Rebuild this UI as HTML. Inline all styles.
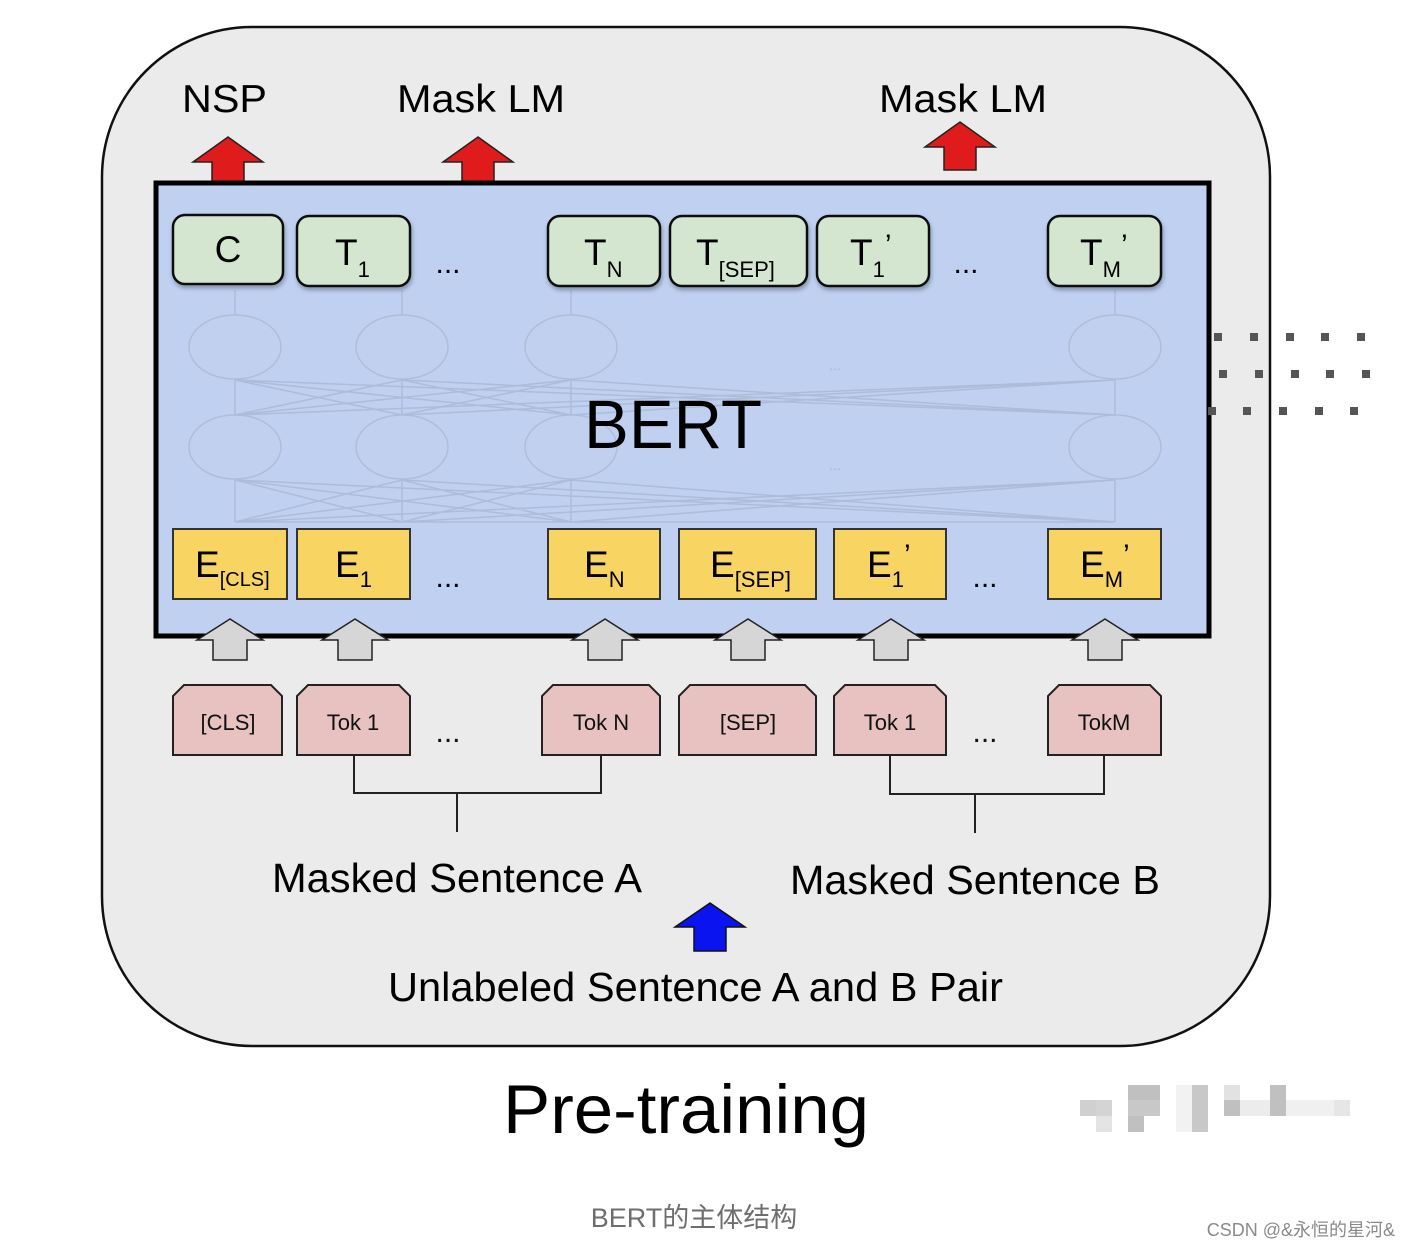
<!DOCTYPE html>
<html><head><meta charset="utf-8"><style>
html,body{margin:0;padding:0;background:#fff;width:1410px;height:1248px;overflow:hidden}
svg text{font-family:"Liberation Sans","Noto Sans CJK SC",sans-serif}
</style></head><body>
<svg width="1410" height="1248" viewBox="0 0 1410 1248" xmlns="http://www.w3.org/2000/svg">
<defs>
<filter id="sh" x="-10%" y="-10%" width="130%" height="140%"><feDropShadow dx="1" dy="3" stdDeviation="2" flood-color="#000" flood-opacity="0.3"/></filter>
</defs>
<!-- outer -->
<rect x="102" y="27" width="1168" height="1019" rx="150" ry="150" fill="#ebebeb" stroke="#111" stroke-width="2.5"/>
<!-- red arrows -->
<g fill="#e01b1b" stroke="#222" stroke-width="1.5">
<path d="M228,137 L263,162 L244,162 L244,184 L212,184 L212,162 L193,162 Z"/>
<path d="M478,137 L513,162 L494,162 L494,184 L462,184 L462,162 L443,162 Z"/>
<path d="M960,122 L995,147 L976,147 L976,170 L944,170 L944,147 L925,147 Z"/>
</g>
<!-- BERT box -->
<rect x="156" y="183" width="1053" height="453" fill="#bfd0f1" stroke="#000" stroke-width="5"/>
<!-- network lines -->
<g stroke="#a8b8d4" stroke-width="1.5" fill="none" opacity="0.8">
<path d="M235,415 L235,380 M402,415 L402,380 M571,415 L571,380 M1115,415 L1115,380"/>
<path d="M235,415 L402,380 M235,415 L571,380 M235,415 L1115,380 M402,415 L235,380 M402,415 L571,380 M402,415 L1115,380 M571,415 L235,380 M571,415 L402,380 M571,415 L1115,380 M1115,415 L235,380 M1115,415 L402,380 M1115,415 L571,380"/>
<path d="M235,522 L235,480 M402,522 L402,480 M571,522 L571,480 M1115,522 L1115,480"/>
<path d="M235,522 L402,480 M235,522 L571,480 M235,522 L1115,480 M402,522 L235,480 M402,522 L571,480 M402,522 L1115,480 M571,522 L235,480 M571,522 L402,480 M571,522 L1115,480 M1115,522 L235,480 M1115,522 L402,480 M1115,522 L571,480 M235,522 L1115,522"/>
<path d="M235,315 L235,290 M402,315 L402,290 M571,315 L571,290 M1115,315 L1115,290"/>
</g>
<g fill="#c2d1ef" stroke="#aebcd6" stroke-width="1.5" opacity="0.9">
<ellipse cx="235" cy="347" rx="46" ry="32"/><ellipse cx="402" cy="347" rx="46" ry="32"/><ellipse cx="571" cy="347" rx="46" ry="32"/><ellipse cx="1115" cy="347" rx="46" ry="32"/>
<ellipse cx="235" cy="447" rx="46" ry="32"/><ellipse cx="402" cy="447" rx="46" ry="32"/><ellipse cx="571" cy="447" rx="46" ry="32"/><ellipse cx="1115" cy="447" rx="46" ry="32"/>
</g>
<text x="835" y="370" font-size="14" fill="#aab7d0" text-anchor="middle">...</text>
<text x="835" y="470" font-size="14" fill="#aab7d0" text-anchor="middle">...</text>
<text x="584" y="448" font-size="69" fill="#000" textLength="178" lengthAdjust="spacingAndGlyphs">BERT</text>
<!-- green boxes -->
<g fill="#d5e6d0" stroke="#111" stroke-width="2.5" filter="url(#sh)">
<rect x="173" y="215" width="110" height="69" rx="12"/>
<rect x="297" y="216" width="113" height="70" rx="12"/>
<rect x="548" y="216" width="112" height="70" rx="12"/>
<rect x="670" y="216" width="137" height="70" rx="12"/>
<rect x="817" y="216" width="112" height="70" rx="12"/>
<rect x="1048" y="216" width="113" height="70" rx="12"/>
</g>
<g font-size="37" fill="#000">
<text x="228" y="262" text-anchor="middle">C</text>
<text x="335" y="265">T<tspan font-size="22" dy="12">1</tspan></text>
<text x="584" y="265">T<tspan font-size="22" dy="12">N</tspan></text>
<text x="696" y="265">T<tspan font-size="22" dy="12">[SEP]</tspan></text>
<text x="850" y="265">T<tspan font-size="22" dy="12">1</tspan><tspan font-size="30" dy="-22">’</tspan></text>
<text x="1080" y="265">T<tspan font-size="22" dy="12">M</tspan><tspan font-size="30" dy="-22">’</tspan></text>
<text x="448" y="273" font-size="30" text-anchor="middle">...</text>
<text x="966" y="273" font-size="30" text-anchor="middle">...</text>
</g>
<!-- yellow boxes -->
<g fill="#f8d462" stroke="#333" stroke-width="2">
<rect x="173" y="529" width="114" height="70"/>
<rect x="297" y="529" width="113" height="70"/>
<rect x="548" y="529" width="112" height="70"/>
<rect x="679" y="529" width="137" height="70"/>
<rect x="834" y="529" width="112" height="70"/>
<rect x="1048" y="529" width="113" height="70"/>
</g>
<g font-size="37" fill="#000">
<text x="195" y="577">E<tspan font-size="20" dy="9">[CLS]</tspan></text>
<text x="335" y="577">E<tspan font-size="22" dy="10">1</tspan></text>
<text x="584" y="577">E<tspan font-size="22" dy="10">N</tspan></text>
<text x="710" y="577">E<tspan font-size="22" dy="10">[SEP]</tspan></text>
<text x="867" y="577">E<tspan font-size="22" dy="10">1</tspan><tspan font-size="30" dy="-22">’</tspan></text>
<text x="1080" y="577">E<tspan font-size="22" dy="10">M</tspan><tspan font-size="30" dy="-22">’</tspan></text>
<text x="448" y="587" font-size="30" text-anchor="middle">...</text>
<text x="985" y="587" font-size="30" text-anchor="middle">...</text>
</g>
<!-- gray arrows -->
<g fill="#d6d6d6" stroke="#222" stroke-width="1.5">
<path d="M230,619 L263,640 L247,640 L247,660 L213,660 L213,640 L197,640 Z"/>
<path d="M355,619 L388,640 L372,640 L372,660 L338,660 L338,640 L322,640 Z"/>
<path d="M605,619 L638,640 L622,640 L622,660 L588,660 L588,640 L572,640 Z"/>
<path d="M748,619 L781,640 L765,640 L765,660 L731,660 L731,640 L715,640 Z"/>
<path d="M891,619 L924,640 L908,640 L908,660 L874,660 L874,640 L858,640 Z"/>
<path d="M1105,619 L1138,640 L1122,640 L1122,660 L1088,660 L1088,640 L1072,640 Z"/>
</g>
<!-- pink boxes -->
<g fill="#e8c1c1" stroke="#222" stroke-width="2">
<path d="M173,755 L173,696 L184,685 L271,685 L282,696 L282,755 Z"/>
<path d="M297,755 L297,696 L308,685 L399,685 L410,696 L410,755 Z"/>
<path d="M542,755 L542,696 L553,685 L649,685 L660,696 L660,755 Z"/>
<path d="M679,755 L679,696 L690,685 L805,685 L816,696 L816,755 Z"/>
<path d="M834,755 L834,696 L845,685 L935,685 L946,696 L946,755 Z"/>
<path d="M1048,755 L1048,696 L1059,685 L1150,685 L1161,696 L1161,755 Z"/>
</g>
<g font-size="22" fill="#111" text-anchor="middle">
<text x="228" y="730">[CLS]</text>
<text x="353" y="730">Tok 1</text>
<text x="601" y="730">Tok N</text>
<text x="748" y="730">[SEP]</text>
<text x="890" y="730">Tok 1</text>
<text x="1104" y="730">TokM</text>
<text x="448" y="742" font-size="30">...</text>
<text x="985" y="742" font-size="30">...</text>
</g>
<!-- brackets -->
<g stroke="#222" stroke-width="2" fill="none">
<path d="M354,755 L354,793 L601,793 L601,755 M457,793 L457,832"/>
<path d="M890,755 L890,794 L1104,794 L1104,755 M975,794 L975,833"/>
</g>
<!-- blue arrow -->
<path d="M710,903 L745,927 L726,927 L726,951 L694,951 L694,927 L675,927 Z" fill="#0a14f0" stroke="#111" stroke-width="1.5"/>
<!-- labels -->
<g fill="#000">
<text x="182" y="112" font-size="39" textLength="85" lengthAdjust="spacingAndGlyphs">NSP</text>
<text x="397" y="112" font-size="39" textLength="168" lengthAdjust="spacingAndGlyphs">Mask LM</text>
<text x="879" y="112" font-size="39" textLength="168" lengthAdjust="spacingAndGlyphs">Mask LM</text>
<text x="272" y="892" font-size="41" textLength="370" lengthAdjust="spacingAndGlyphs">Masked Sentence A</text>
<text x="790" y="894" font-size="41" textLength="370" lengthAdjust="spacingAndGlyphs">Masked Sentence B</text>
<text x="388" y="1001" font-size="41" textLength="615" lengthAdjust="spacingAndGlyphs">Unlabeled Sentence A and B Pair</text>
<text x="503" y="1133" font-size="69" textLength="366" lengthAdjust="spacingAndGlyphs">Pre-training</text>
</g>
<!-- dots -->
<g fill="#555">
<rect x="1214" y="333" width="8" height="8"/><rect x="1250" y="333" width="8" height="8"/><rect x="1286" y="333" width="8" height="8"/><rect x="1321" y="333" width="8" height="8"/><rect x="1357" y="333" width="8" height="8"/>
<rect x="1219" y="370" width="8" height="8"/><rect x="1255" y="370" width="8" height="8"/><rect x="1291" y="370" width="8" height="8"/><rect x="1326" y="370" width="8" height="8"/><rect x="1362" y="370" width="8" height="8"/>
<rect x="1208" y="407" width="8" height="8"/><rect x="1243" y="407" width="8" height="8"/><rect x="1279" y="407" width="8" height="8"/><rect x="1315" y="407" width="8" height="8"/><rect x="1350" y="407" width="8" height="8"/>
</g>
<!-- pixelated blur -->
<g>
<rect x="1080" y="1100" width="16" height="16" fill="#d0d0d0"/><rect x="1096" y="1100" width="16" height="16" fill="#d4d4d4"/><rect x="1096" y="1116" width="16" height="16" fill="#e4e4e4"/>
<rect x="1128" y="1085" width="32" height="15" fill="#c0c0c0"/><rect x="1128" y="1100" width="32" height="16" fill="#c8c8c8"/><rect x="1128" y="1116" width="16" height="16" fill="#c0c0c0"/>
<rect x="1176" y="1085" width="16" height="47" fill="#f2f2f2"/><rect x="1192" y="1085" width="16" height="47" fill="#c8c8c8"/>
<rect x="1224" y="1085" width="16" height="15" fill="#e2e2e2"/><rect x="1224" y="1100" width="16" height="16" fill="#c0c0c0"/><rect x="1240" y="1100" width="32" height="16" fill="#ececec"/>
<rect x="1270" y="1085" width="16" height="31" fill="#c0c0c0"/><rect x="1286" y="1100" width="48" height="16" fill="#f0f0f0"/><rect x="1334" y="1100" width="16" height="16" fill="#e6e6e6"/>
</g>
<text x="694" y="1227" font-size="27" fill="#6e6e6e" text-anchor="middle">BERT的主体结构</text>
<text x="1395" y="1236" font-size="18" fill="#8a8a8a" text-anchor="end">CSDN @&amp;永恒的星河&amp;</text>
</svg>
</body></html>
